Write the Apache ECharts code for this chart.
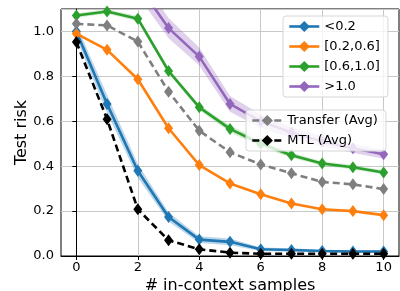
<!DOCTYPE html>
<html>
<head>
<meta charset="utf-8">
<script src="https://cdn.jsdelivr.net/npm/echarts@6/dist/echarts.min.js"></script>
<style>
  html, body { margin: 0; padding: 0; background: #fff; }
  #chart { width: 400px; height: 291px; }
</style>
</head>
<body>
<div id="chart"></div>
<script>
  // number of in-context samples
  const xs = [0, 1, 2, 3, 4, 5, 6, 7, 8, 9, 10];
  const xTicks = [0, 2, 4, 6, 8, 10];

  // test risk per group
  const lt02 = [1.0, 0.677, 0.38, 0.174, 0.073, 0.063, 0.03, 0.027, 0.022, 0.02, 0.02];
  const lt02Err = [0.03, 0.04, 0.03, 0.02, 0.015, 0.015, 0.008, 0.008, 0.006, 0.006, 0.006];
  const mid02 = [0.99, 0.918, 0.787, 0.569, 0.405, 0.323, 0.275, 0.234, 0.208, 0.2, 0.182];
  const mid06 = [1.071, 1.089, 1.057, 0.824, 0.662, 0.566, 0.5, 0.449, 0.412, 0.395, 0.372];
  const mid06Err = [0.01, 0.01, 0.012, 0.012, 0.012, 0.015, 0.015, 0.012, 0.01, 0.01, 0.01];
  const gt10 = [1.3, 1.27, 1.21, 1.015, 0.888, 0.677, 0.6, 0.55, 0.51, 0.48, 0.453];
  const gt10Err = [0.05, 0.05, 0.05, 0.045, 0.04, 0.035, 0.03, 0.025, 0.022, 0.02, 0.02];
  const transferAvg = [1.034, 1.027, 0.955, 0.732, 0.558, 0.462, 0.408, 0.368, 0.33, 0.319, 0.298];
  const mtlAvg = [0.953, 0.609, 0.208, 0.07, 0.03, 0.015, 0.01, 0.01, 0.01, 0.01, 0.01];

  const font = 'DejaVu Sans';
  const pts = arr => xs.map((x, i) => [x, arr[i]]);

  let lineSeries = (name, d, color, dashed) => {
    return {
      name,
      type: 'line',
      data: pts(d),
      symbol: 'diamond',
      symbolSize: [9, 12],
      color,
      lineStyle: { width: 2.6, color, type: dashed ? [7, 4] : 'solid' },
      itemStyle: { color },
      z: 3
    }
  };
  // shaded band (mean +- err) as one polygon, placed with the axis scales
  let bandSeries = (d, err, color) => {
    return {
      type: 'custom',
      silent: true,
      clip: true,
      z: 1,
      data: xs.map((x, i) => [x, d[i] - err[i], d[i] + err[i]]),
      encode: { x: 0, y: [1, 2] },
      renderItem: (params, api) => {
        if (params.dataIndex !== 0) return;
        let upper = xs.map((x, i) => api.coord([x, d[i] + err[i]]));
        let lower = xs.map((x, i) => api.coord([x, d[i] - err[i]])).reverse();
        return {
          type: 'polygon',
          shape: { points: upper.concat(lower) },
          style: { fill: color }
        };
      }
    }
  };

  const legendText = { fontFamily: font, fontSize: 13, color: '#000' };
  const legendBox = {
    orient: 'vertical',
    itemWidth: 30,
    itemHeight: 14,
    itemGap: 7,
    padding: [4, 8, 4, 5],
    backgroundColor: 'rgba(255,255,255,0.8)',
    borderColor: '#d6d6d6',
    borderWidth: 1,
    borderRadius: 3,
    textStyle: legendText,
    lineStyle: { width: 2.6 },
    z: 10
  };

  const chart = echarts.init(document.getElementById('chart'));
  chart.setOption({
    animation: false,
    textStyle: { fontFamily: font },
    grid: {
      left: 61, right: 1, top: 9, bottom: 35,
      outerBoundsMode: 'none',
      containLabel: false,
      show: true, borderColor: '#000', borderWidth: 1
    },
    legend: [
      Object.assign({}, legendBox, { left: 283, top: 16, data: ['<0.2', '[0.2,0.6]', '[0.6,1.0]', '>1.0'] }),
      Object.assign({}, legendBox, { left: 246, top: 110, data: ['Transfer (Avg)', 'MTL (Avg)'] })
    ],
    xAxis: {
      type: 'value',
      min: -0.5, max: 10.5,
      name: '# in-context samples',
      nameLocation: 'middle',
      nameGap: 22,
      nameMoveOverlap: false,
      nameTextStyle: { fontFamily: font, fontSize: 16, color: '#000' },
      axisLine: { show: true, lineStyle: { color: '#000', width: 1 } },
      axisTick: { show: true, length: 4, customValues: xTicks, lineStyle: { color: '#000' } },
      axisLabel: { customValues: xTicks, fontFamily: font, fontSize: 13, color: '#000', margin: 5 },
      splitLine: { show: true, lineStyle: { color: '#c8c8c8', width: 1 } }
    },
    yAxis: {
      type: 'value',
      min: 0, max: 1.1, interval: 0.2,
      name: 'Test risk',
      nameLocation: 'middle',
      nameGap: 31,
      nameMoveOverlap: false,
      nameTextStyle: { fontFamily: font, fontSize: 16, color: '#000' },
      axisLine: { show: true, lineStyle: { color: '#000', width: 1 } },
      axisTick: { show: true, length: 4, lineStyle: { color: '#000' } },
      axisLabel: {
        fontFamily: font, fontSize: 13, color: '#000', margin: 7, showMaxLabel: false,
        formatter: v => v.toFixed(1)
      },
      splitLine: { show: true, lineStyle: { color: '#c8c8c8', width: 1 } }
    },
    series: [
      bandSeries(lt02, lt02Err, 'rgba(31,119,180,0.3)'),
      bandSeries(mid06, mid06Err, 'rgba(44,160,44,0.2)'),
      bandSeries(gt10, gt10Err, 'rgba(148,103,189,0.3)'),
      lineSeries('<0.2', lt02, '#1f77b4'),
      lineSeries('[0.2,0.6]', mid02, '#ff7f0e'),
      lineSeries('[0.6,1.0]', mid06, '#2ca02c'),
      lineSeries('>1.0', gt10, '#9467bd'),
      lineSeries('Transfer (Avg)', transferAvg, '#7f7f7f', true),
      lineSeries('MTL (Avg)', mtlAvg, '#000000', true)
    ]
  });
</script>
</body>
</html>
